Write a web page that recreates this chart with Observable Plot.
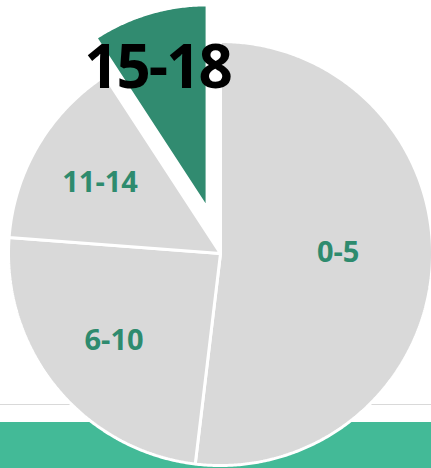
<!DOCTYPE html>
<html><head><meta charset="utf-8">
<script src="https://cdn.jsdelivr.net/npm/d3@7"></script>
<script src="https://cdn.jsdelivr.net/npm/@observablehq/plot@0.6"></script>
<style>
html,body{margin:0;padding:0;background:#fff;}
#wrap{position:relative;width:431px;height:468px;overflow:hidden;}
#rule{position:absolute;left:0;top:404px;width:431px;height:1px;background:#d9d9d9;}
#band{position:absolute;left:0;top:422px;width:431px;height:46px;background:#43BA97;}
#chart{position:absolute;left:0;top:0;}
</style></head><body>
<div id="wrap"><div id="rule"></div><div id="band"></div><div id="chart"></div></div>
<script>
const categories = ["0-5", "6-10", "11-14", "15-18"];
const values = [51.9, 24.3, 14.6, 9.2];
const sliceColors = ["#D9D9D9", "#D9D9D9", "#D9D9D9", "#318B70"];
const highlighted = "15-18";

// layout options
const explodeOffset = 0.222;   // in radius units
const explodedRadius = 0.96;
const labelRadius = {"0-5": 0.555, "6-10": 0.65, "11-14": 0.66, "15-18": 0.91};
const labelAngleShift = {"0-5": -0.065, "6-10": 0, "11-14": 0, "15-18": 0};

const arcs = d3.pie().sort(null).value(d => d)(values);
const rows = [];
const labels = [];
arcs.forEach((a, i) => {
  const cat = categories[i];
  const mid = (a.startAngle + a.endAngle) / 2;
  const ex = cat === highlighted;
  const ox = ex ? explodeOffset * Math.sin(mid) : 0;
  const oy = ex ? explodeOffset * Math.cos(mid) : 0;
  const r = ex ? explodedRadius : 1;
  rows.push({cat, x: ox, y: oy});
  const n = Math.max(2, Math.ceil((a.endAngle - a.startAngle) / (Math.PI / 360)));
  for (let k = 0; k <= n; k++) {
    const t = a.startAngle + (a.endAngle - a.startAngle) * k / n;
    rows.push({cat, x: ox + r * Math.sin(t), y: oy + r * Math.cos(t)});
  }
  const lr = labelRadius[cat];
  const la = mid + labelAngleShift[cat];
  labels.push({cat, x: lr * Math.sin(la), y: lr * Math.cos(la)});
});

const chart = Plot.plot({
  width: 431,
  height: 468,
  x: {domain: [-1, 1], range: [8, 432], axis: null},
  y: {domain: [-1, 1], range: [465, 41], axis: null},
  color: {domain: categories, range: sliceColors},
  style: {background: "transparent", overflow: "visible"},
  marks: [
    Plot.line(rows, {x: "x", y: "y", z: "cat", fill: "cat", stroke: "white", strokeWidth: 3, curve: "linear-closed", strokeLinejoin: "miter"}),
    Plot.text(labels.filter(d => d.cat !== highlighted), {x: "x", y: "y", text: "cat", fill: "#2E8B6E", fontSize: 29, fontWeight: "bold", fontFamily: "'Open Sans', sans-serif"}),
    Plot.text(labels.filter(d => d.cat === highlighted), {x: "x", y: "y", text: "cat", fill: "#000", fontSize: 60, fontWeight: "bold", fontFamily: "'Open Sans', sans-serif", dx: -8, className: "big"})
  ]
});
d3.select(chart).selectAll(".big text").style("letter-spacing", "-2px");
document.getElementById("chart").appendChild(chart);
</script>
</body></html>
